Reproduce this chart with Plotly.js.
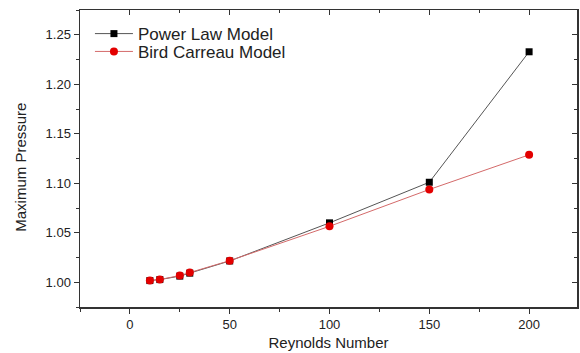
<!DOCTYPE html>
<html><head><meta charset="utf-8">
<script src="https://cdn.plot.ly/plotly-3.0.1.min.js"></script>
<style>html,body{margin:0;padding:0;background:#fff}#c{width:580px;height:353px}</style>
</head><body><div id="c"></div>
<script>
const reynolds = [10, 15, 25, 30, 50, 100, 150, 200];
const powerLaw = [1.0017, 1.0027, 1.0062, 1.0092, 1.0215, 1.0600, 1.1010, 1.2328];
const birdCarreau = [1.0017, 1.0027, 1.0068, 1.0098, 1.0218, 1.0565, 1.0937, 1.1287];
const seriesNames = ['Power Law Model', 'Bird Carreau Model'];
const xTitle = 'Reynolds Number';
const yTitle = 'Maximum Pressure';

const font = {family: 'Liberation Sans, Arial, sans-serif', color: '#222'};
const traces = [
  {x: reynolds, y: powerLaw, name: seriesNames[0], mode: 'lines+markers', type: 'scatter', legend: 'legend',
   line: {color: '#555', width: 1}, marker: {symbol: 'square', size: 7, color: '#000'}},
  {x: reynolds, y: birdCarreau, name: seriesNames[1], mode: 'lines+markers', type: 'scatter', legend: 'legend2',
   line: {color: '#d46a6a', width: 1}, marker: {symbol: 'circle', size: 8, color: '#e30000'}},
  {x: [reynolds[0]], y: [powerLaw[0]], xaxis: 'x2', yaxis: 'y2', showlegend: false, hoverinfo: 'skip',
   mode: 'markers', marker: {opacity: 0}}
];
const xr = [-25, 224], yr = [0.975, 1.275];
const legFont = Object.assign({size: 17}, font);
const layout = {
  width: 580, height: 353,
  margin: {l: 80, r: 3, t: 10, b: 46},
  paper_bgcolor: '#fff', plot_bgcolor: '#fff',
  font: Object.assign({size: 13}, font),
  showlegend: true,
  legend: {x: 0.02, y: 0.919, xanchor: 'left', yanchor: 'middle', bgcolor: 'rgba(0,0,0,0)', font: legFont, itemwidth: 38},
  legend2: {x: 0.02, y: 0.859, xanchor: 'left', yanchor: 'middle', bgcolor: 'rgba(0,0,0,0)', font: legFont, itemwidth: 38},
  annotations: [{text: yTitle, textangle: -90, xref: 'paper', yref: 'paper', x: -0.12, y: 0.47,
    xanchor: 'center', yanchor: 'middle', showarrow: false, font: Object.assign({size: 15}, font)}],
  xaxis: {range: xr, dtick: 50, tick0: 0, ticks: 'outside', ticklen: 5, tickcolor: '#333',
    showgrid: false, zeroline: false, showline: true, linecolor: '#333', linewidth: 1.5,
    minor: {dtick: 25, tick0: 0, ticks: 'outside', ticklen: 3, tickcolor: '#333'},
    title: {text: xTitle, font: Object.assign({size: 15}, font), standoff: 6}},
  yaxis: {range: yr, dtick: 0.05, tick0: 1, tickformat: '.2f', ticks: 'outside', ticklen: 5, tickcolor: '#333',
    showgrid: false, zeroline: false, showline: true, linecolor: '#333', linewidth: 1.5,
    minor: {dtick: 0.025, tick0: 1, ticks: 'outside', ticklen: 3, tickcolor: '#333'}},
  xaxis2: {overlaying: 'x', side: 'top', range: xr, dtick: 50, tick0: 0, ticks: 'inside', ticklen: 5,
    tickcolor: '#333', showticklabels: false, showgrid: false, zeroline: false, showline: true,
    linecolor: '#333', linewidth: 1.5,
    minor: {dtick: 25, tick0: 0, ticks: 'inside', ticklen: 3, tickcolor: '#333'}},
  yaxis2: {overlaying: 'y', side: 'right', range: yr, dtick: 0.05, tick0: 1, ticks: 'inside', ticklen: 5,
    tickcolor: '#333', showticklabels: false, showgrid: false, zeroline: false, showline: true,
    linecolor: '#333', linewidth: 1.5,
    minor: {dtick: 0.025, tick0: 1, ticks: 'inside', ticklen: 3, tickcolor: '#333'}}
};
Plotly.newPlot('c', traces, layout, {displayModeBar: false, staticPlot: true});
</script></body></html>
